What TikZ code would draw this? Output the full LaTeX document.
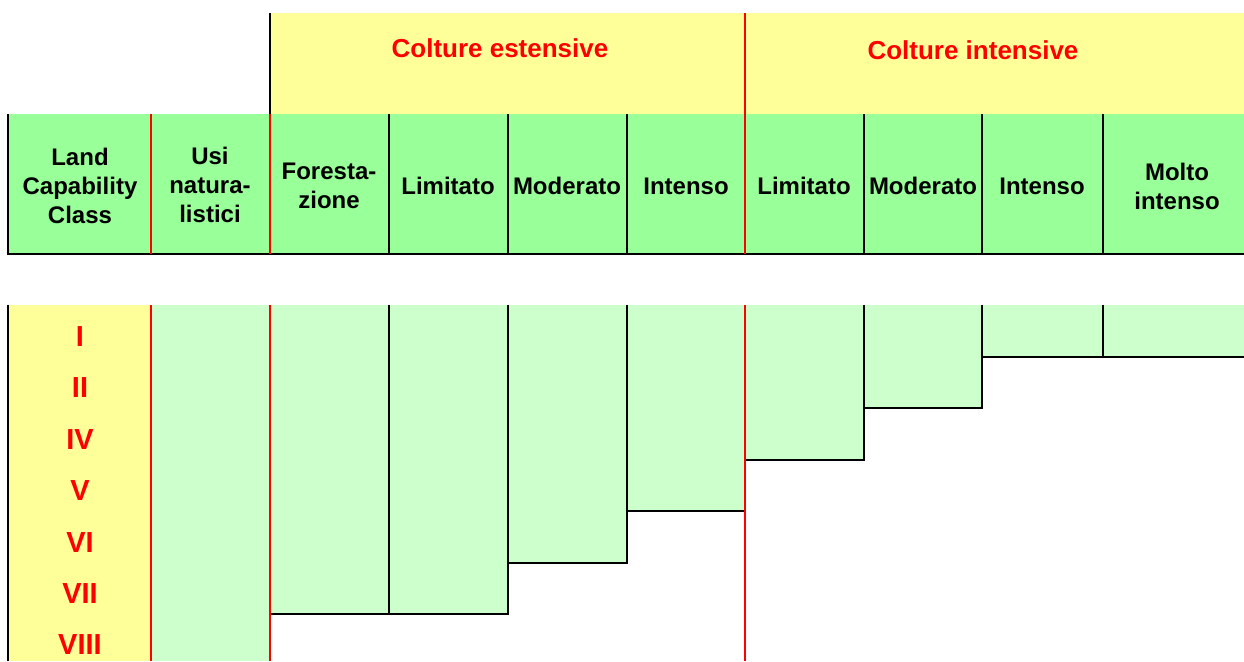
\documentclass[tikz,border=0pt]{standalone}
\usepackage{fontspec}
\setmainfont{Liberation Sans}
\definecolor{capyellow}{HTML}{FFFF99}
\definecolor{capgreen}{HTML}{99FF99}
\definecolor{usegreen}{HTML}{CCFFCC}
\tikzset{
  lab/.style={font=\bfseries\fontsize{12}{14.5}\selectfont, align=center, inner sep=0pt},
  grp/.style={text=red, font=\bfseries\fontsize{13}{15}\selectfont, inner sep=0pt},
  cls/.style={text=red, font=\bfseries\fontsize{14.5}{16}\selectfont, inner sep=0pt},
  sep/.style={red, line width=1pt}
}
\begin{document}
\begin{tikzpicture}[x=0.5pt,y=-0.5pt,line width=1pt]
\useasboundingbox (0,0) rectangle (1244,661);

% header bands
\fill[capyellow] (270,13) rectangle (1244,114);
\fill[capgreen] (8,114) rectangle (1244,254);

% class column and bars
\fill[capyellow] (8,305) rectangle (151,661);
\foreach \xa/\xb/\yb in {151/270/661, 270/508/614, 508/627/563, 627/745/511,
                         745/864/460, 864/982/408, 982/1244/357}
  \fill[usegreen] (\xa,305) rectangle (\xb,\yb);

% black lines
\draw (270,13) -- (270,114);
\draw (8,114) -- (8,254) -- (1244,254);
\foreach \x in {389,508,627,864,982,1103}
  \draw (\x,114) -- (\x,254);
\draw (8,305) -- (8,661);
\draw (389,305) -- (389,614);
\draw (508,305) -- (508,563);
\draw (627,305) -- (627,511);
\draw (864,305) -- (864,408);
\draw (982,305) -- (982,357);
\draw (1103,305) -- (1103,357);
\draw (270,614) -- (508,614) -- (508,563) -- (627,563) -- (627,511) -- (745,511);
\draw (745,460) -- (864,460) -- (864,408) -- (982,408) -- (982,357) -- (1244,357);

% red separators
\draw[sep] (151,114) -- (151,254);
\draw[sep] (270,114) -- (270,254);
\draw[sep] (745,13) -- (745,254);
\draw[sep] (151,305) -- (151,661);
\draw[sep] (270,305) -- (270,661);
\draw[sep] (745,305) -- (745,661);

\node[grp] (est) at (500,48) {Colture estensive};
\node[grp] (int) at (973,50) {Colture intensive};

\node[lab] (lcc) at (80,186) {Land\\Capability\\Class};
\node[lab] (usi) at (210,185) {Usi\\natura-\\listici};
\node[lab] (for) at (329,186) {Foresta-\\zione};
\node[lab] (elim) at (448,186) {Limitato};
\node[lab] (emod) at (567,186) {Moderato};
\node[lab] (eint) at (686,186) {Intenso};
\node[lab] (ilim) at (804,186) {Limitato};
\node[lab] (imod) at (923,186) {Moderato};
\node[lab] (iint) at (1042,186) {Intenso};
\node[lab] (imol) at (1177,186) {Molto\\intenso};

\node[cls] (c1) at (80,337) {I};
\node[cls] (c2) at (80,388) {II};
\node[cls] (c4) at (80,440) {IV};
\node[cls] (c5) at (80,491) {V};
\node[cls] (c6) at (80,543) {VI};
\node[cls] (c7) at (80,594) {VII};
\node[cls] (c8) at (80,645) {VIII};
\end{tikzpicture}
\end{document}
